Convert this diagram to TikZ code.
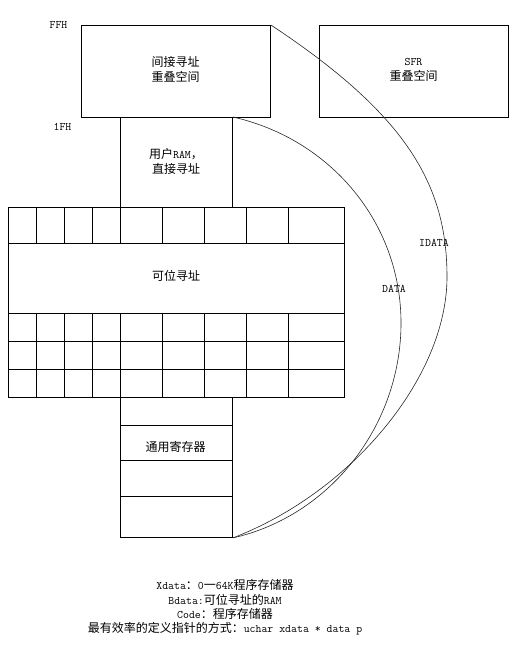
\documentclass[tikz,border=0pt]{standalone}
\usepackage{fontspec}
\newfontfamily\cjk{Noto Sans CJK SC}
\newcommand\lt[1]{{\ttfamily\fontsize{11.5}{15}\selectfont #1}}
\tikzset{
  box/.style={draw, line width=0.9pt, inner sep=0pt, anchor=north west},
  lbl/.style={font=\cjk\fontsize{12}{15}\selectfont, align=center, inner sep=0pt},
  ltxt/.style={font=\ttfamily\fontsize{11.5}{15}\selectfont, inner sep=0pt},
  cell/.style={line width=0.9pt},
  arcline/.style={draw=black!85, line width=0.6pt},
}
\begin{document}
\begin{tikzpicture}[x=1pt,y=-1pt]
\useasboundingbox (0,0) rectangle (521,645);
% boxes
\node[box, minimum width=189pt, minimum height=92pt] (ind) at (81,25) {};
\node[box, minimum width=189pt, minimum height=92pt] (sfr) at (319,25) {};
\node[box, minimum width=112pt, minimum height=90pt] (ram) at (120,117) {};
\node[box, minimum width=336pt, minimum height=190pt] (grid) at (8,207) {};
\node[box, minimum width=112pt, minimum height=140pt] (low) at (120,397) {};
% grid lines
\foreach \y in {243,313,341,369} \draw[cell] (8,\y) -- (344,\y);
\foreach \x in {36,64,92,120,162,204,246,288} {
  \draw[cell] (\x,207) -- (\x,243);
  \draw[cell] (\x,313) -- (\x,397);
}
\foreach \y in {425,460,496} \draw[cell] (120,\y) -- (232,\y);
% texts in boxes
\node[lbl] (tind) at (175.5,69.5) {间接寻址\\重叠空间};
\node[lbl] (tsfr) at (413.5,69.5) {\lt{SFR}\\重叠空间};
\node[lbl] (tram) at (176,161.5) {用户\lt{RAM}，\\直接寻址};
\node[lbl] (tbit) at (176,275.5) {可位寻址};
\node[lbl] (treg) at (175.5,447) {通用寄存器};
% address labels
\node[ltxt] (ffh) at (58.5,24.5) {FFH};
\node[ltxt] (onefh) at (62.5,126.5) {1FH};
% curves
\coordinate (dmid) at (401,323);
\coordinate (imid) at (447,277);
\draw[arcline] (ram.north east) .. controls (330.3,139) and (401,222.3) .. (dmid)
  .. controls (401,424.4) and (331.2,515.7) .. (low.south east);
\draw[arcline] (ind.north east) .. controls (407,115) and (447,185) .. (imid)
  .. controls (447,377) and (352,492) .. (low.south east);
\node[ltxt] (ldata) at (394,289) {DATA};
\node[ltxt] (lidata) at (434,243) {IDATA};
% bottom notes
\node[lbl, anchor=base] (n1) at (225,589.6) {\lt{Xdata}：\lt{0}一\lt{64K}程序存储器};
\node[lbl, anchor=base] (n2) at (225,604.4) {\lt{Bdata:}可位寻址的\lt{RAM}};
\node[lbl, anchor=base] (n3) at (225,618.6) {\lt{Code}：程序存储器};
\node[lbl, anchor=base] (n4) at (225,632.6) {最有效率的定义指针的方式：\lt{uchar xdata * data p}};
\end{tikzpicture}
\end{document}
